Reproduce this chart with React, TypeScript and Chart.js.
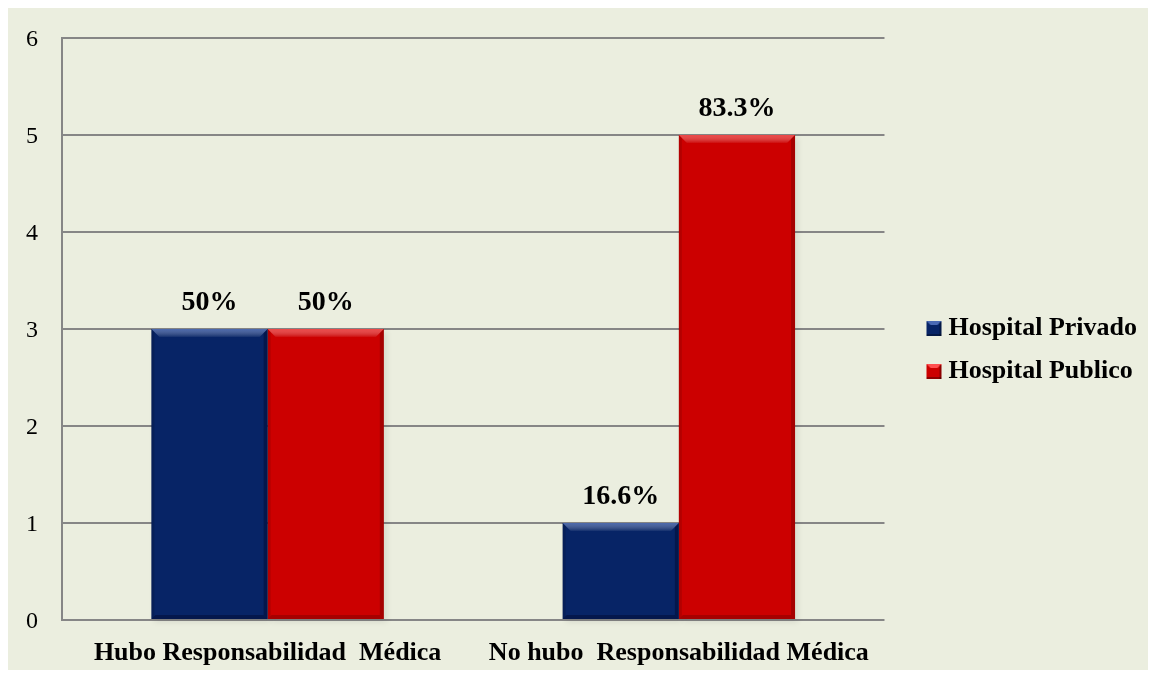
import React, { useEffect, useRef } from "react";
import { Chart, registerables } from "chart.js";

Chart.register(...registerables);

const categories = ["Hubo Responsabilidad  Médica", "No hubo  Responsabilidad Médica"];
const seriesNames = ["Hospital Privado", "Hospital Publico"];
const privadoValues = [3, 1];
const publicoValues = [3, 5];
const privadoLabels = ["50%", "16.6%"];
const publicoLabels = ["50%", "83.3%"];
const yTicks = [0, 1, 2, 3, 4, 5, 6];
const seriesColors = ["#072466", "#CC0000"];
const seriesLights = ["#4A6AB5", "#FF5050"];

const FONT = "'Liberation Serif', 'Times New Roman', serif";

function makeLegendSwatch(color: string, light: string): HTMLCanvasElement {
  const c = document.createElement("canvas");
  c.width = 68;
  c.height = 15;
  const ctx = c.getContext("2d")!;
  const x0 = 42;
  const s = 15;
  ctx.fillStyle = color;
  ctx.fillRect(x0, 0, s, s);
  ctx.fillStyle = light;
  ctx.beginPath();
  ctx.moveTo(x0, 0);
  ctx.lineTo(x0 + s, 0);
  ctx.lineTo(x0 + s - 4, 4);
  ctx.lineTo(x0 + 4, 4);
  ctx.closePath();
  ctx.fill();
  ctx.fillStyle = "rgba(0,0,0,0.3)";
  ctx.fillRect(x0 + s - 2, 1, 2, s - 1);
  ctx.fillRect(x0, s - 2, s, 2);
  return c;
}

const bevelPlugin = {
  id: "bevel",
  beforeDatasetsDraw(chart: any) {
    const ctx = chart.ctx;
    chart.data.datasets.forEach((ds: any, di: number) => {
      const meta = chart.getDatasetMeta(di);
      meta.data.forEach((bar: any) => {
        const x0 = bar.x - bar.width / 2;
        const w = bar.width;
        const y0 = bar.y;
        const h = bar.base - bar.y;
        ctx.save();
        ctx.shadowColor = "rgba(0,0,0,0.35)";
        ctx.shadowBlur = 6;
        ctx.shadowOffsetX = 3;
        ctx.shadowOffsetY = 3;
        ctx.fillStyle = "rgba(0,0,0,0.25)";
        ctx.fillRect(x0, y0, w, h);
        ctx.restore();
      });
    });
  },
  afterDatasetsDraw(chart: any) {
    const ctx = chart.ctx;
    const lights = ["rgba(120,150,220,0.6)", "rgba(255,110,110,0.65)"];
    const darks = ["rgba(0,0,30,0.35)", "rgba(80,0,0,0.3)"];
    chart.data.datasets.forEach((ds: any, di: number) => {
      const meta = chart.getDatasetMeta(di);
      meta.data.forEach((bar: any) => {
        const x0 = bar.x - bar.width / 2;
        const x1 = bar.x + bar.width / 2;
        const y0 = bar.y;
        const y1 = bar.base;
        const b = 8;
        ctx.save();
        const g = ctx.createLinearGradient(0, y0, 0, y0 + b);
        g.addColorStop(0, lights[di]);
        g.addColorStop(1, "rgba(255,255,255,0.05)");
        ctx.fillStyle = g;
        ctx.beginPath();
        ctx.moveTo(x0, y0);
        ctx.lineTo(x1, y0);
        ctx.lineTo(x1 - b, y0 + b);
        ctx.lineTo(x0 + b, y0 + b);
        ctx.closePath();
        ctx.fill();
        ctx.fillStyle = darks[di];
        ctx.beginPath();
        ctx.moveTo(x1, y0);
        ctx.lineTo(x1, y1);
        ctx.lineTo(x1 - 4, y1 - 4);
        ctx.lineTo(x1 - 4, y0 + 4);
        ctx.closePath();
        ctx.fill();
        ctx.beginPath();
        ctx.moveTo(x0, y1);
        ctx.lineTo(x1, y1);
        ctx.lineTo(x1 - 4, y1 - 4);
        ctx.lineTo(x0 + 4, y1 - 4);
        ctx.closePath();
        ctx.fill();
        ctx.fillStyle = "rgba(0,0,0,0.12)";
        ctx.beginPath();
        ctx.moveTo(x0, y0);
        ctx.lineTo(x0, y1);
        ctx.lineTo(x0 + 3, y1 - 3);
        ctx.lineTo(x0 + 3, y0 + 3);
        ctx.closePath();
        ctx.fill();
        ctx.restore();
      });
    });
    const labelSets = [privadoLabels, publicoLabels];
    ctx.save();
    ctx.font = `bold 28px ${FONT}`;
    ctx.fillStyle = "#000";
    ctx.textAlign = "center";
    ctx.textBaseline = "middle";
    chart.data.datasets.forEach((ds: any, di: number) => {
      const meta = chart.getDatasetMeta(di);
      meta.data.forEach((bar: any, i: number) => {
        ctx.fillText(labelSets[di][i], bar.x, bar.y - 26);
      });
    });
    ctx.restore();
  },
};

export default function App() {
  const ref = useRef<HTMLCanvasElement>(null);
  useEffect(() => {
    if (!ref.current) return;
    const swatches = seriesColors.map((c, i) => makeLegendSwatch(c, seriesLights[i]));
    const chart = new Chart(ref.current, {
      type: "bar",
      data: {
        labels: categories,
        datasets: [
          {
            label: seriesNames[0],
            data: privadoValues,
            backgroundColor: seriesColors[0],
            borderWidth: 0,
          },
          {
            label: seriesNames[1],
            data: publicoValues,
            backgroundColor: seriesColors[1],
            borderWidth: 0,
          },
        ],
      },
      options: {
        animation: false,
        responsive: true,
        maintainAspectRatio: false,
        layout: { padding: { top: 22, right: 1, left: 0, bottom: 0 } },
        plugins: {
          tooltip: { enabled: false },
          legend: {
            position: "right",
            labels: {
              usePointStyle: true,
              pointStyleWidth: 34,
              boxHeight: 15,
              padding: 17,
              color: "#000",
              font: { family: FONT, size: 26, weight: "bold" },
              generateLabels: (ch: any) => {
                const items = Chart.defaults.plugins.legend.labels.generateLabels(ch);
                return items.map((it: any, i: number) => ({ ...it, pointStyle: swatches[i] }));
              },
            },
          },
        },
        datasets: {
          bar: { categoryPercentage: 0.565, barPercentage: 1 },
        },
        scales: {
          x: {
            grid: { display: false, drawTicks: false },
            border: { display: false },
            ticks: {
              color: "#000",
              padding: 18,
              font: { family: FONT, size: 26, weight: "bold" },
            },
            afterFit: (s: any) => {
              s.height = 50;
            },
          },
          y: {
            min: 0,
            max: 6,
            afterBuildTicks: (s: any) => {
              s.ticks = yTicks.map((v) => ({ value: v }));
            },
            grid: { color: "#868686", lineWidth: 2, drawTicks: false },
            border: { display: true, color: "#868686", width: 2 },
            ticks: {
              color: "#000",
              padding: 24,
              labelOffset: 2,
              font: { family: FONT, size: 24 },
            },
            afterFit: (s: any) => {
              s.width = 54;
              s.paddingTop = 30;
              s.paddingBottom = 0;
            },
          },
        },
      },
      plugins: [bevelPlugin],
    });
    return () => chart.destroy();
  }, []);
  return (
    <div style={{ width: 1140, height: 662, background: "#EBEEDF", position: "relative" }}>
      <canvas ref={ref} />
    </div>
  );
}
